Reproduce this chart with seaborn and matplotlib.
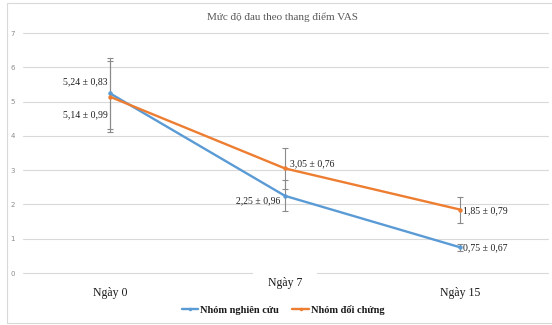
import matplotlib
matplotlib.use("Agg")
import matplotlib.pyplot as plt
from matplotlib.patches import Rectangle
import pandas as pd
import seaborn as sns

# VAS pain scores over time, mean with error bars, for two groups
days = ["Ngày 0", "Ngày 7", "Ngày 15"]
groups = ["Nhóm nghiên cứu", "Nhóm đối chứng"]
mean_nghien_cuu = [5.24, 2.25, 0.75]
sd_nghien_cuu = [0.83, 0.96, 0.67]
mean_doi_chung = [5.14, 3.05, 1.85]
sd_doi_chung = [0.99, 0.76, 0.79]
# half-lengths of the plotted error bars
err_nghien_cuu = [1.04, 0.45, 0.10]
err_doi_chung = [1.03, 0.60, 0.38]
title = "Mức độ đau theo thang điểm VAS"
y_ticks = [0, 1, 2, 3, 4, 5, 6, 7]

colors = {"Nhóm nghiên cứu": "#5B9BD5", "Nhóm đối chứng": "#ED7D31"}
SERIF = ["Liberation Serif", "DejaVu Serif"]

sns.set_theme(style="white")
plt.rcParams["font.family"] = SERIF

df = pd.DataFrame({
    "day": days * 2,
    "group": [groups[0]] * 3 + [groups[1]] * 3,
    "score": mean_nghien_cuu + mean_doi_chung,
})

fig = plt.figure(figsize=(5.52, 3.25), dpi=100)
ax = fig.add_axes([22.5 / 552, 52 / 325, 525 / 552, 240 / 325])

# chart frame
fig.patches.append(Rectangle((7 / 552, 2 / 325), 1.0, 320 / 325,
                             transform=fig.transFigure, fill=False,
                             edgecolor="#d9d9d9", linewidth=0.8, zorder=0))

ax.set_ylim(0, 7)
ax.set_yticks(y_ticks)
ax.set_yticklabels([str(t) for t in y_ticks], fontsize=5, color="#8c8c8c",
                   family=["DejaVu Sans"])
ax.tick_params(axis="y", length=0, pad=5.5)
ax.yaxis.grid(True, color="#d9d9d9", linewidth=0.8)
ax.set_axisbelow(True)
for s in ax.spines.values():
    s.set_visible(False)

# error bars
for means, errs in [(mean_nghien_cuu, err_nghien_cuu), (mean_doi_chung, err_doi_chung)]:
    ax.errorbar(days, means, yerr=errs, fmt="none", ecolor="#8a8a8a",
                elinewidth=0.8, capsize=2, capthick=0.8, zorder=2)

sns.lineplot(data=df, x="day", y="score", hue="group", hue_order=groups,
             palette=colors, marker="o", markersize=3.2, markeredgewidth=0,
             linewidth=1.7, sort=False, ax=ax, zorder=3, legend=False)

ax.set_xlim(-0.5, 2.5)
ax.set_xticks(range(len(days)))
ax.set_xticklabels([])
ax.tick_params(axis="x", length=0)
ax.set_xlabel("")
ax.set_ylabel("")

# keep the gridlines at the plot edges fully visible
fig.canvas.draw()
for gl in ax.get_ygridlines():
    gl.set_clip_on(False)

# category labels under the plot
x_label_offsets = [-14.5, -7.5, -14.5]
for i, (d, dy) in enumerate(zip(days, x_label_offsets)):
    bbox = None
    if i == 1:
        bbox = dict(boxstyle="square,pad=1.25", facecolor="white", edgecolor="none")
    ax.annotate(d, xy=(i, 0), xycoords=("data", "axes fraction"),
                xytext=(0, dy), textcoords="offset points", ha="center",
                va="center", fontsize=8.5, color="#1a1a1a", bbox=bbox,
                annotation_clip=False, zorder=4)

# value labels
label_fmt = lambda m, s: f"{m:.2f} ± {s:.2f}".replace(".", ",")
lbl_style = dict(textcoords="offset points", va="center", fontsize=7,
                 color="#1f1f1f", zorder=5)
offsets_nc = [(-1.5, 8.0, "right"), (-3.5, -3.2, "right"), (2.2, 0.0, "left")]
offsets_dc = [(-1.5, -13.3, "right"), (3.5, 3.6, "left"), (2.2, -0.7, "left")]
for i in range(len(days)):
    dx, dy, ha = offsets_nc[i]
    ax.annotate(label_fmt(mean_nghien_cuu[i], sd_nghien_cuu[i]),
                xy=(i, mean_nghien_cuu[i]), xytext=(dx, dy), ha=ha, **lbl_style)
    dx, dy, ha = offsets_dc[i]
    ax.annotate(label_fmt(mean_doi_chung[i], sd_doi_chung[i]),
                xy=(i, mean_doi_chung[i]), xytext=(dx, dy), ha=ha, **lbl_style)

fig.text(283 / 552, 1 - 17 / 325, title, ha="center", va="center",
         fontsize=8, color="#595959")

# legend
handles = [plt.Line2D([], [], color=colors[g], linewidth=1.7, marker="o",
                      markersize=2.5, markeredgewidth=0) for g in groups]
leg = fig.legend(handles, groups, loc="center", bbox_to_anchor=(283 / 552, 1 - 310 / 325),
                 ncol=2, frameon=False, handlelength=1.6, handletextpad=0.15,
                 columnspacing=1.3, prop={"family": SERIF, "weight": "bold", "size": 7.5})
for t in leg.get_texts():
    t.set_color("#1a1a1a")

fig.savefig("out.png", dpi=100)
